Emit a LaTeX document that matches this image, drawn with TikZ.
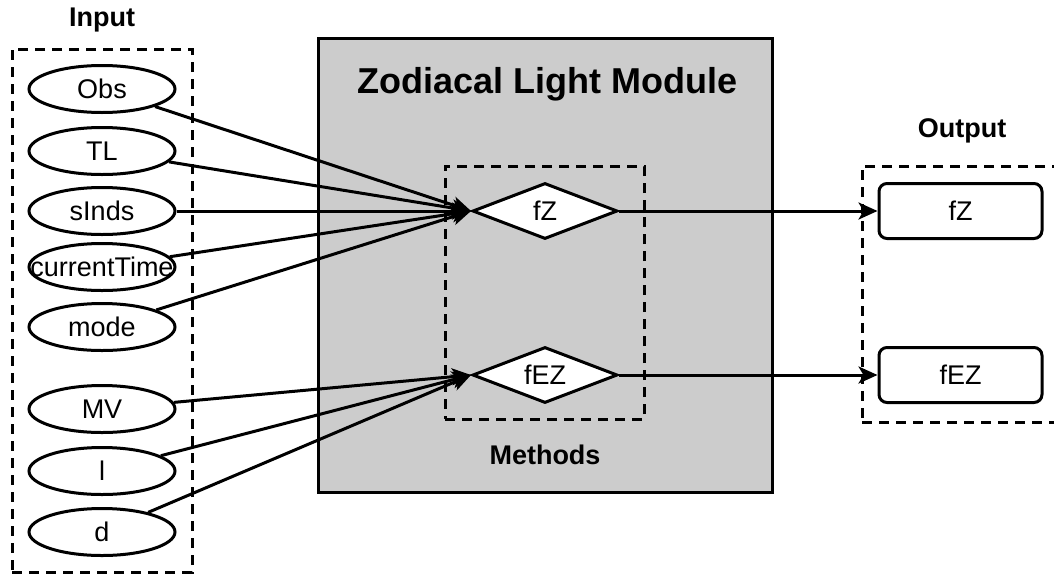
\documentclass[tikz,border=0pt]{standalone}
\usepackage{fontspec}
\setmainfont{Liberation Sans}
\usetikzlibrary{shapes.geometric,arrows.meta}
\definecolor{modgrey}{HTML}{CCCCCC}
\begin{document}
\begin{tikzpicture}[x=1pt,y=-1pt,
  every node/.style={font=\fontsize{27}{30}\selectfont},
  inp/.style={ellipse,draw,line width=3pt,fill=white,minimum width=146pt,minimum height=47pt,inner sep=0pt},
  meth/.style={diamond,draw,line width=3pt,fill=white,minimum width=145pt,minimum height=56pt,inner sep=0pt,shape aspect=2.6},
  outbox/.style={rectangle,rounded corners=8pt,draw,line width=3pt,fill=white,minimum width=163pt,minimum height=55pt,inner sep=0pt},
  grp/.style={rectangle,draw,line width=3pt,dash pattern=on 10pt off 7pt,inner sep=0pt},
  lbl/.style={font=\fontsize{27}{30}\selectfont\bfseries},
  conn/.style={line width=3pt,-{Stealth[length=19pt,width=17pt,inset=5pt]}}
]
\clip (0,0) rectangle (1054,576);
\useasboundingbox (0,0) rectangle (1054,576);

% module box
\node[rectangle,draw,line width=3pt,fill=modgrey,minimum width=454pt,minimum height=454pt,inner sep=0pt] (mod) at (545,265) {};
\node[font=\fontsize{36}{40}\selectfont\bfseries] (title) at (547,84) {Zodiacal Light Module};

% groups
\node[grp,minimum width=180pt,minimum height=523pt] (ingrp) at (102,310.5) {};
\node[grp,minimum width=199pt,minimum height=253pt] (methgrp) at (544.5,292.5) {};
\node[grp,minimum width=210pt,minimum height=256pt] (outgrp) at (967,294) {};

\node[lbl] (inlbl) at (102,20) {Input};
\node[lbl] (outlbl) at (962,131) {Output};
\node[lbl] (methlbl) at (545,455) {Methods};

% inputs
\node[inp] (obs) at (102,89) {Obs};
\node[inp] (tl) at (102,151) {TL};
\node[inp] (sinds) at (102,211) {sInds};
\node[inp] (ct) at (102,267) {\makebox[0pt]{currentTime}};
\node[inp] (mode) at (102,327) {mode};
\node[inp] (mv) at (102,409) {MV};
\node[inp] (l) at (102,471) {l};
\node[inp] (d) at (102,532) {d};

% methods
\node[meth] (fz) at (545,211) {fZ};
\node[meth] (fez) at (545,375) {fEZ};

% outputs
\node[outbox] (ofz) at (960.5,211) {fZ};
\node[outbox] (ofez) at (960.5,375) {fEZ};

% connectors
\foreach \s in {obs,tl,sinds,ct,mode}{\draw[conn] (\s) -- (fz.west);}
\foreach \s in {mv,l,d}{\draw[conn] (\s) -- (fez.west);}
\draw[conn] (fz.east) -- (ofz.west);
\draw[conn] (fez.east) -- (ofez.west);
\end{tikzpicture}
\end{document}
